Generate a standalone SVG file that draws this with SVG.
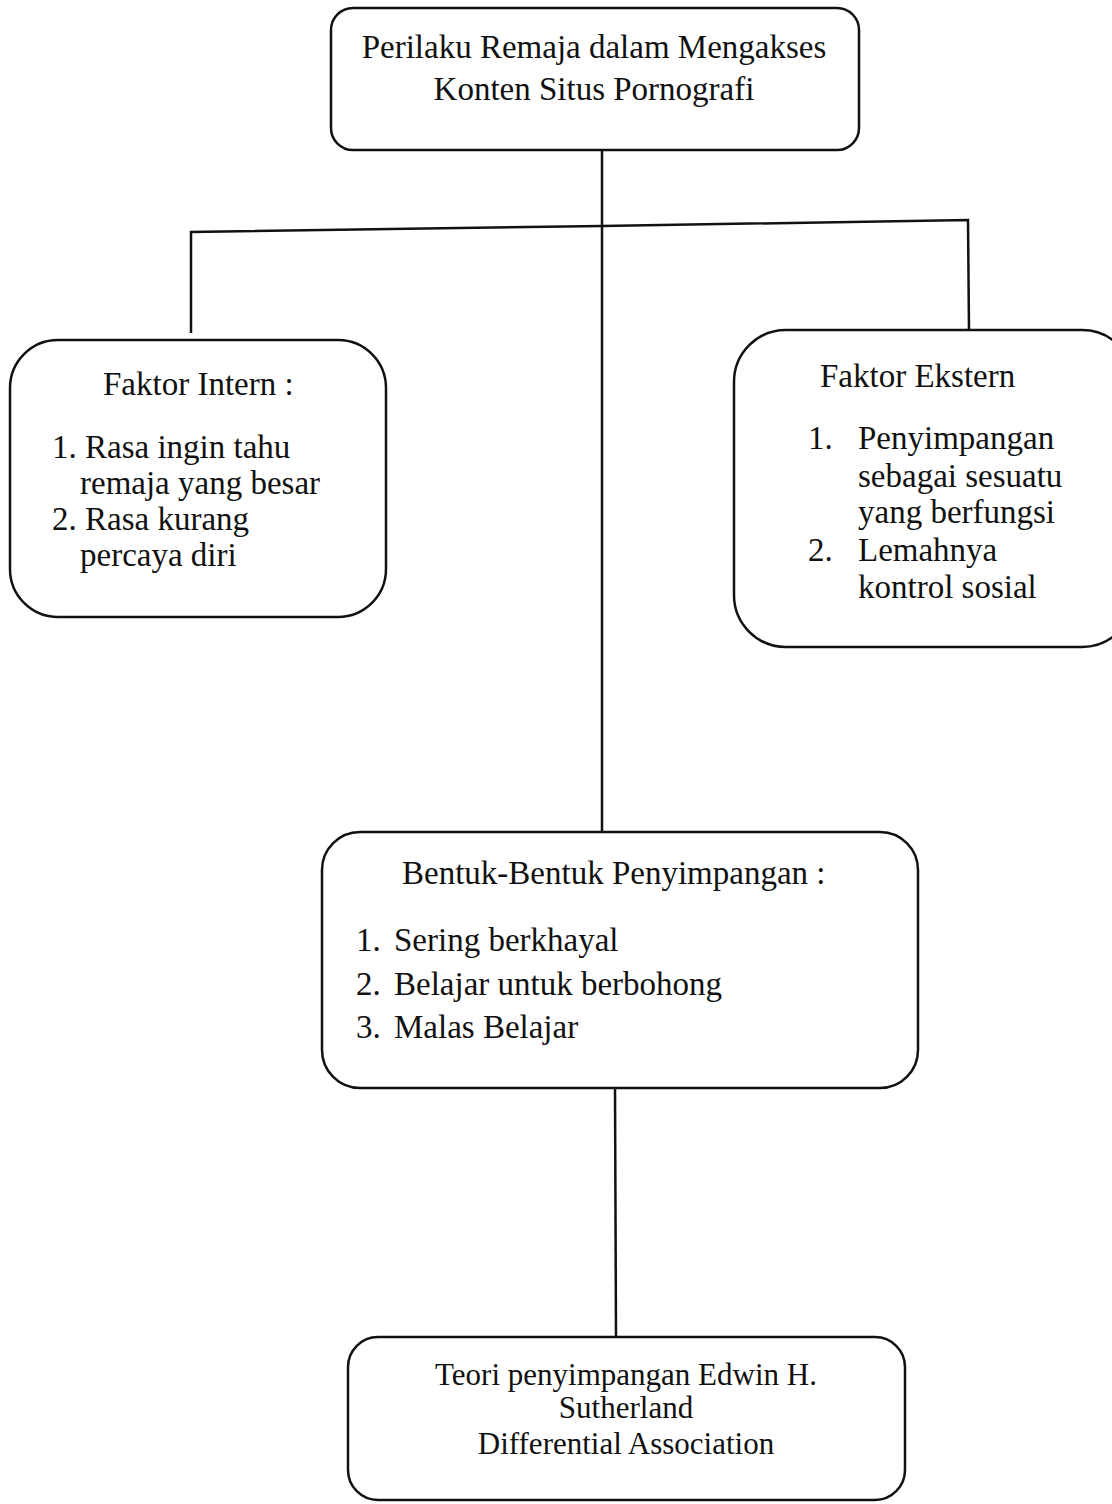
<svg xmlns="http://www.w3.org/2000/svg" width="1112" height="1504" viewBox="0 0 1112 1504">
<style>
.box{fill:none;stroke:#111;stroke-width:2.5}
.ln{fill:none;stroke:#111;stroke-width:2.5}
text{font-family:"Liberation Serif","Times New Roman",serif;fill:#111;font-size:33px}
.c{text-anchor:middle}
.s{font-size:31px}
</style>
<rect width="1112" height="1504" fill="#fff"/>
<g id="connectors">
<line class="ln" x1="602" y1="150" x2="602" y2="832"/>
<polyline class="ln" points="191,333 191,232 602,226 968,220 969,330"/>
<line class="ln" x1="615" y1="1088" x2="616" y2="1337"/>
</g>
<g id="node-top">
<rect class="box" x="331" y="8" width="528" height="142" rx="22"/>
<text class="c" x="594" y="58">Perilaku Remaja dalam Mengakses</text>
<text class="c" x="594" y="100">Konten Situs Pornografi</text>
</g>
<g id="node-intern">
<rect class="box" x="10" y="340" width="376" height="277" rx="48"/>
<text x="103" y="395">Faktor Intern :</text>
<text x="52" y="458">1. Rasa ingin tahu</text>
<text x="80" y="494">remaja yang besar</text>
<text x="52" y="530">2. Rasa kurang</text>
<text x="80" y="566">percaya diri</text>
</g>
<g id="node-ekstern">
<rect class="box" x="734" y="330" width="400" height="317" rx="52"/>
<text x="820" y="387">Faktor Ekstern</text>
<text x="808" y="449">1.</text>
<text x="858" y="449">Penyimpangan</text>
<text x="858" y="487">sebagai sesuatu</text>
<text x="858" y="523">yang berfungsi</text>
<text x="808" y="561">2.</text>
<text x="858" y="561">Lemahnya</text>
<text x="858" y="598">kontrol sosial</text>
</g>
<g id="node-bentuk">
<rect class="box" x="322" y="832" width="596" height="256" rx="38"/>
<text x="402" y="884">Bentuk-Bentuk Penyimpangan :</text>
<text x="356" y="951">1.</text>
<text x="394" y="951">Sering berkhayal</text>
<text x="356" y="995">2.</text>
<text x="394" y="995">Belajar untuk berbohong</text>
<text x="356" y="1038">3.</text>
<text x="394" y="1038">Malas Belajar</text>
</g>
<g id="node-teori">
<rect class="box" x="348" y="1337" width="557" height="163" rx="30"/>
<text class="c s" x="626" y="1385">Teori penyimpangan Edwin H.</text>
<text class="c s" x="626" y="1418">Sutherland</text>
<text class="c s" x="626" y="1454">Differential Association</text>
</g>
</svg>
